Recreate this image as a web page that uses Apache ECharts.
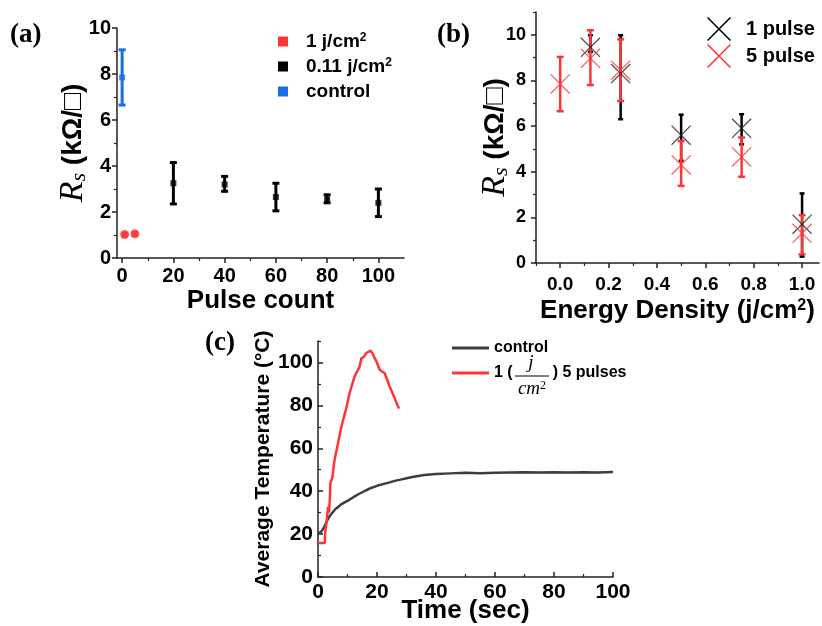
<!DOCTYPE html>
<html><head><meta charset="utf-8">
<script src="https://cdn.jsdelivr.net/npm/echarts@6/dist/echarts.min.js"></script>
<style>html,body{margin:0;padding:0;background:#fff}#c{width:822px;height:626px}</style>
</head><body><div id="c"></div>
<script>
// ---------- Panel (a): Rs vs pulse count ----------
const aCtrlX = [0], aCtrlY = [7.85], aCtrlLo = [6.65], aCtrlHi = [9.05];
const a1jX = [1, 5], a1jY = [1.02, 1.05], a1jLo = [0.95, 0.98], a1jHi = [1.09, 1.12];
const a011X = [20, 40, 60, 80, 100];
const a011Y = [3.25, 3.2, 2.65, 2.55, 2.4];
const a011Lo = [2.35, 2.9, 2.05, 2.4, 1.8];
const a011Hi = [4.15, 3.55, 3.25, 2.75, 3.0];
const aXTicks = [0, 20, 40, 60, 80, 100], aXMinor = [10, 30, 50, 70, 90];
const aYTicks = [0, 2, 4, 6, 8, 10], aYMinor = [1, 3, 5, 7, 9];

// ---------- Panel (b): Rs vs energy density ----------
const b1X = [0.125, 0.25, 0.5, 0.75, 1.0];
const b1Y = [9.45, 8.3, 5.6, 5.9, 1.7];
const b1Lo = [9.25, 6.3, 4.48, 5.2, 0.28];
const b1Hi = [9.98, 9.98, 6.5, 6.52, 3.05];
const b5X = [0, 0.125, 0.25, 0.5, 0.75, 1.0];
const b5Y = [7.85, 8.97, 8.45, 4.3, 4.65, 1.3];
const b5Lo = [6.65, 7.8, 7.1, 3.38, 3.78, 0.38];
const b5Hi = [9.03, 10.2, 9.8, 5.35, 5.5, 2.1];
const bXTicks = [0, 0.2, 0.4, 0.6, 0.8, 1.0], bXMinor = [-0.1, 0.1, 0.3, 0.5, 0.7, 0.9];
const bYTicks = [0, 2, 4, 6, 8, 10], bYMinor = [1, 3, 5, 7, 9, 11];

// ---------- Panel (c): temperature vs time ----------
const ctrlT = [0, 1, 2, 3, 4, 5, 6, 7, 8, 9, 10, 12, 14, 16, 18, 20, 22, 24, 26, 28, 30, 32, 34, 36, 38, 40, 45, 50, 55, 60, 65, 70, 75, 80, 85, 90, 95, 100];
const ctrlV = [20.2, 21, 23, 26, 28.5, 30.2, 31.8, 32.8, 34, 34.8, 35.5, 37.2, 38.8, 40.2, 41.5, 42.5, 43.3, 44, 44.8, 45.4, 46, 46.6, 47.1, 47.5, 47.8, 48, 48.3, 48.6, 48.4, 48.6, 48.7, 48.8, 48.7, 48.8, 48.7, 48.8, 48.7, 48.9];
const redT = [0, 2.3, 2.4, 3, 3.4, 3.7, 4, 4.2, 4.9, 5.6, 6.8, 7.9, 9.6, 10.7, 12.4, 14.1, 14.7, 15.5, 16.4, 17.8, 18.6, 19.2, 19.8, 20.9, 22.6, 24.3, 26, 27.1, 27.5];
const redV = [15.9, 15.9, 20, 27, 32.7, 30, 35.8, 43.6, 46.7, 54.5, 62.3, 70, 78.7, 85.7, 93.5, 98, 102, 102.5, 104.4, 105.5, 104, 102, 100.5, 96.6, 95, 88.8, 83.3, 79.5, 78.5];
const cXTicks = [0, 20, 40, 60, 80, 100], cXMinor = [10, 30, 50, 70, 90];
const cYTicks = [0, 20, 40, 60, 80, 100], cYMinor = [10, 30, 50, 70, 90, 110];

const RED = '#ff3434', BLUE = '#1670e4', BLACK = '#000000', GRAY = '#3d3d3d';
const SANS = 'Liberation Sans', SERIF = 'Liberation Serif';
const XPATH = 'path://M0,0.45L0.45,0L10,9.55L9.55,10ZM9.55,0L10,0.45L0.45,10L0,9.55Z';

const zip2 = (a, b) => a.map((v, i) => [v, b[i]]);
const zip3 = (a, b, c) => a.map((v, i) => [v, b[i], c[i]]);

function errBar(color, capW, lw) {
  return function (params, api) {
    const x = api.value(0);
    const p1 = api.coord([x, api.value(1)]);
    const p2 = api.coord([x, api.value(2)]);
    const st = { stroke: color, lineWidth: lw };
    return { type: 'group', children: [
      { type: 'line', shape: { x1: p1[0], y1: p1[1], x2: p2[0], y2: p2[1] }, style: st },
      { type: 'line', shape: { x1: p1[0] - capW / 2, y1: p1[1], x2: p1[0] + capW / 2, y2: p1[1] }, style: st },
      { type: 'line', shape: { x1: p2[0] - capW / 2, y1: p2[1], x2: p2[0] + capW / 2, y2: p2[1] }, style: st }
    ] };
  };
}

function axisPair(dim, grid, min, max, ticks, minor, opt) {
  const pos = dim === 'x' ? 'bottom' : 'left';
  const lc = '#222';
  const main = {
    type: 'value', gridIndex: grid, min: min, max: max, position: pos,
    axisLine: { show: true, onZero: false, lineStyle: { color: lc, width: 1.5 } },
    axisTick: { show: true, inside: !!opt.inside, customValues: ticks, length: 5, lineStyle: { color: lc, width: 1.5 } },
    axisLabel: { customValues: ticks, formatter: opt.fmt, color: '#000', fontSize: opt.fs, fontWeight: 'bold', fontFamily: SANS, margin: opt.margin },
    splitLine: { show: false },
    name: opt.name, nameLocation: 'middle', nameGap: opt.nameGap, nameMoveOverlap: false, nameTextStyle: opt.nameStyle
  };
  const sub = {
    type: 'value', gridIndex: grid, min: min, max: max, position: pos,
    axisLine: { show: false, onZero: false },
    axisTick: { show: true, inside: !!opt.inside, customValues: minor, length: 3, lineStyle: { color: lc, width: 1.2 } },
    axisLabel: { show: false }, splitLine: { show: false }
  };
  return [main, sub];
}

const rsName = '{r|R}{s|s}{t| (kΩ/□)}';
const rsStyle = { rich: {
  r: { fontFamily: SERIF, fontStyle: 'italic', fontSize: 34, color: '#000', verticalAlign: 'top' },
  s: { fontFamily: SERIF, fontStyle: 'italic', fontSize: 22, color: '#000', verticalAlign: 'bottom' },
  t: { fontFamily: SANS, fontWeight: 'bold', fontSize: 28, color: '#000' }
} };

const xA = axisPair('x', 0, -2, 110, aXTicks, aXMinor, { fs: 20, margin: 8, name: 'Pulse count', nameGap: 30, nameStyle: { fontFamily: SANS, fontWeight: 'bold', fontSize: 26, color: '#000' } });
const yA = axisPair('y', 0, 0, 10, aYTicks, aYMinor, { fs: 20, margin: 6, name: rsName, nameGap: 27, nameStyle: rsStyle });
const xB = axisPair('x', 1, -0.1, 1.07, bXTicks, bXMinor, { fs: 19, margin: 12, fmt: v => Number(v).toFixed(1),
  name: '{t|Energy Density (j/cm}{u|2}{t|)}', nameGap: 35,
  nameStyle: { rich: { t: { fontFamily: SANS, fontWeight: 'bold', fontSize: 26, color: '#000' }, u: { fontFamily: SANS, fontWeight: 'bold', fontSize: 16, color: '#000', verticalAlign: 'top' } } } });
const yB = axisPair('y', 1, 0, 11, bYTicks, bYMinor, { fs: 18, margin: 10, name: rsName, nameGap: 24, nameStyle: rsStyle });
const xC = axisPair('x', 2, 0, 100, cXTicks, cXMinor, { fs: 21, margin: 5, inside: true, name: 'Time (sec)', nameGap: 21, nameStyle: { fontFamily: SANS, fontWeight: 'bold', fontSize: 26, color: '#000' } });
const yC = axisPair('y', 2, 0, 110, cYTicks, cYMinor, { fs: 21, margin: 5, inside: true, name: 'Average Temperature (°C)', nameGap: 44, nameStyle: { fontFamily: SANS, fontWeight: 'bold', fontSize: 21, color: '#000' } });

const legendNames = {
  '1 j/cm2': '{p| }{t|1 j/cm}{u|2}',
  '0.11 j/cm2': '{p| }{t|0.11 j/cm}{u|2}',
  'control': '{p| }{t|control}',
  '1 pulse': '{p| }{t|1 pulse}',
  '5 pulse': '{p| }{t|5 pulse}'
};

const option = {
  backgroundColor: '#fff',
  animation: false,
  title: [
    { text: '(a)', left: 5, top: 17, textStyle: { fontFamily: SERIF, fontWeight: 'bold', fontSize: 27, color: '#000' } },
    { text: '(b)', left: 432, top: 17, textStyle: { fontFamily: SERIF, fontWeight: 'bold', fontSize: 27, color: '#000' } },
    { text: '(c)', left: 200, top: 325, textStyle: { fontFamily: SERIF, fontWeight: 'bold', fontSize: 27, color: '#000' } }
  ],
  grid: [
    { left: 117, top: 28, width: 287, height: 230 },
    { left: 536, top: 12, width: 283, height: 251 },
    { left: 318, top: 341, width: 295, height: 236 }
  ],
  xAxis: [...xA, ...xB, ...xC],
  yAxis: [...yA, ...yB, ...yC],
  legend: [
    { orient: 'vertical', left: 273, top: 27, itemWidth: 10, itemHeight: 10, itemGap: 6, selectedMode: false,
      data: [{ name: '1 j/cm2', icon: 'rect', itemStyle: { color: RED } },
             { name: '0.11 j/cm2', icon: 'rect', itemStyle: { color: BLACK } },
             { name: 'control', icon: 'rect', itemStyle: { color: BLUE } }],
      formatter: n => legendNames[n],
      textStyle: { fontFamily: SANS, fontWeight: 'bold', fontSize: 19, color: '#000', rich: {
        p: { width: 13, fontSize: 19 },
        t: { fontFamily: SANS, fontWeight: 'bold', fontSize: 19, color: '#000' },
        u: { fontFamily: SANS, fontWeight: 'bold', fontSize: 12, color: '#000', verticalAlign: 'top' } } } },
    { orient: 'vertical', left: 702, top: 12, itemWidth: 24, itemHeight: 24, itemGap: 3, selectedMode: false,
      data: [{ name: '1 pulse', icon: XPATH, itemStyle: { color: BLACK } },
             { name: '5 pulse', icon: XPATH, itemStyle: { color: RED } }],
      formatter: n => legendNames[n],
      textStyle: { fontFamily: SANS, fontWeight: 'bold', fontSize: 20, color: '#000', rich: {
        p: { width: 10, fontSize: 20 },
        t: { fontFamily: SANS, fontWeight: 'bold', fontSize: 20, color: '#000' } } } },
    { orient: 'vertical', left: 447, top: 335, itemWidth: 37, itemHeight: 3, itemGap: 9, selectedMode: false,
      data: [{ name: 'control', icon: 'rect', itemStyle: { color: GRAY } },
             { name: '1 (j/cm2) 5 pulses', icon: 'rect', itemStyle: { color: RED } }],
      formatter: n => n === 'control' ? '{t|control}' : '{t|1 (}{g| }{t|) 5 pulses}',
      textStyle: { fontFamily: SANS, fontWeight: 'bold', fontSize: 16, color: '#000', rich: {
        t: { fontFamily: SANS, fontWeight: 'bold', fontSize: 16, color: '#000' },
        g: { width: 40, fontSize: 16 } } } }
  ],
  graphic: [
    { type: 'text', x: 531, y: 363, style: { text: 'j', font: 'italic 19px "Liberation Serif"', fill: '#000', align: 'center', verticalAlign: 'middle' } },
    { type: 'line', shape: { x1: 515, y1: 376, x2: 549, y2: 376 }, style: { stroke: '#000', lineWidth: 1 } },
    { type: 'text', x: 532, y: 389, style: { text: '{m|cm}{q|2}', align: 'center', verticalAlign: 'middle',
      rich: { m: { font: 'italic 19px "Liberation Serif"', fill: '#000' }, q: { font: '12px "Liberation Serif"', fill: '#000', verticalAlign: 'top' } } } }
  ],
  series: [
    // (a)
    { name: 'control', type: 'custom', xAxisIndex: 0, yAxisIndex: 0, renderItem: errBar(BLUE, 7, 3), encode: { x: 0, y: [1, 2] }, data: zip3(aCtrlX, aCtrlLo, aCtrlHi), z: 2 },
    { name: 'control', type: 'scatter', xAxisIndex: 0, yAxisIndex: 0, symbol: 'rect', symbolSize: 6, itemStyle: { color: BLUE }, data: zip2(aCtrlX, aCtrlY), z: 3 },
    { name: '1 j/cm2', type: 'custom', xAxisIndex: 0, yAxisIndex: 0, renderItem: errBar(RED, 6, 2.5), encode: { x: 0, y: [1, 2] }, data: zip3(a1jX, a1jLo, a1jHi), z: 2 },
    { name: '1 j/cm2', type: 'scatter', xAxisIndex: 0, yAxisIndex: 0, symbol: 'circle', symbolSize: 9, itemStyle: { color: RED }, data: zip2(a1jX, a1jY), z: 3 },
    { name: '0.11 j/cm2', type: 'custom', xAxisIndex: 0, yAxisIndex: 0, renderItem: errBar(BLACK, 7, 3), encode: { x: 0, y: [1, 2] }, data: zip3(a011X, a011Lo, a011Hi), z: 2 },
    { name: '0.11 j/cm2', type: 'scatter', xAxisIndex: 0, yAxisIndex: 0, symbol: 'rect', symbolSize: 6, itemStyle: { color: BLACK }, data: zip2(a011X, a011Y), z: 3 },
    // (b)
    { name: '1 pulse', type: 'custom', xAxisIndex: 2, yAxisIndex: 2, renderItem: errBar(BLACK, 5, 2.5), encode: { x: 0, y: [1, 2] }, data: zip3(b1X, b1Lo, b1Hi), z: 2 },
    { name: '5 pulse', type: 'custom', xAxisIndex: 2, yAxisIndex: 2, renderItem: errBar(RED, 7, 2.5), encode: { x: 0, y: [1, 2] }, data: zip3(b5X, b5Lo, b5Hi), z: 3 },
    { name: '1 pulse', type: 'scatter', xAxisIndex: 2, yAxisIndex: 2, symbol: XPATH, symbolSize: 20, itemStyle: { color: '#222' }, data: zip2(b1X, b1Y), z: 4 },
    { name: '5 pulse', type: 'scatter', xAxisIndex: 2, yAxisIndex: 2, symbol: XPATH, symbolSize: 20, itemStyle: { color: RED }, data: zip2(b5X, b5Y), z: 5 },
    // (c)
    { name: 'control', type: 'line', xAxisIndex: 4, yAxisIndex: 4, showSymbol: false, lineStyle: { color: GRAY, width: 2.5 }, itemStyle: { color: GRAY }, data: zip2(ctrlT, ctrlV), z: 2 },
    { name: '1 (j/cm2) 5 pulses', type: 'line', xAxisIndex: 4, yAxisIndex: 4, showSymbol: false, lineStyle: { color: RED, width: 2.5 }, itemStyle: { color: RED }, data: zip2(redT, redV), z: 3 }
  ]
};

const chart = echarts.init(document.getElementById('c'), null, { renderer: 'canvas' });
chart.setOption(option);
</script></body></html>
